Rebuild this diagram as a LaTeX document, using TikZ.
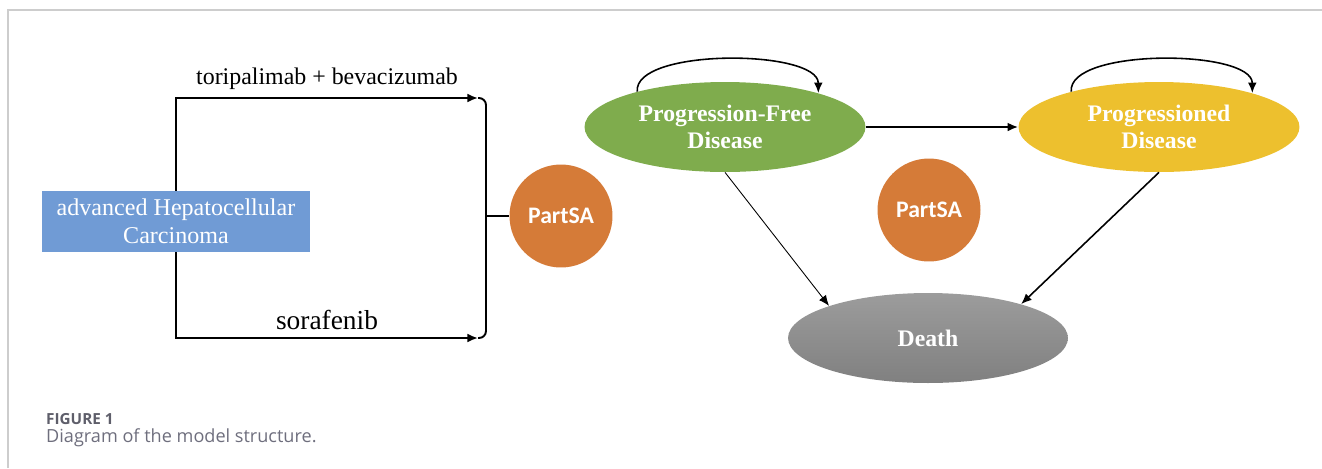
\documentclass[tikz,border=0pt]{standalone}
\usepackage{fontspec}
\setmainfont{Liberation Serif}
\newfontfamily\calfont{Carlito}
\newfontfamily\capfont{Open Sans}
\usepackage{xcolor}
\usepackage{tikz}
\usetikzlibrary{arrows,arrows.meta,shapes,positioning,calc}
\definecolor{boxblue}{RGB}{112,155,213}
\definecolor{partorange}{RGB}{213,123,56}
\definecolor{pfgreen}{RGB}{127,172,77}
\definecolor{pdyellow}{RGB}{237,192,46}
\definecolor{capgray}{RGB}{110,110,125}
\definecolor{framegray}{RGB}{205,205,205}
\definecolor{deathtop}{RGB}{156,156,156}
\definecolor{deathbot}{RGB}{128,128,128}
\tikzstyle{line} = [draw, -{Latex[length=6pt,width=5pt]}]
\tikzstyle{route} = [line, line width=1.1pt]
\tikzstyle{state} = [ellipse, inner sep=0pt, minimum width=5.62cm, minimum height=1.8cm, text=white, font=\bfseries\fontsize{13.5}{15}\selectfont, align=center]
\tikzstyle{partsa} = [circle, fill=partorange, inner sep=0pt, minimum size=2.06cm, text=white, font=\calfont\bfseries\fontsize{13.5}{15}\selectfont]

\begin{document}
\begin{tikzpicture}[x=0.02cm,y=-0.02cm]
		\useasboundingbox (0,0) rectangle (1322,468);
		\draw[framegray, line width=0.6pt] (8,468) -- (8,10) -- (1322,10); % page frame
		
		\node (hcc) [fill=boxblue, minimum width=5.36cm, minimum height=1.22cm, inner sep=0pt, text=white, align=center, font=\fontsize{13.7}{16}\selectfont] at (176,221.5) {advanced Hepatocellular\\Carcinoma}; % start box
		
		\coordinate (ttop) at (478,98); % end of upper arm
		\coordinate (tbot) at (478,338); % end of lower arm
		\node (ps1) [partsa] at (561,216) {PartSA}; % first PartSA
		
		\draw[route] (hcc.north) |- (ttop) node [pos=0.75, above=1pt, font=\fontsize{13.6}{15}\selectfont]{toripalimab + bevacizumab};
		\draw[route] (hcc.south) |- (tbot) node [pos=0.75, above=1pt, font=\fontsize{15.6}{17}\selectfont]{sorafenib};
		\draw[line width=1.1pt, rounded corners=4] (ttop) -- ++(8,0) -- ($(tbot)+(8,0)$) -- (tbot); % bracket
		\draw[line width=1.1pt] ($(ttop)+(8,118)$) -- (ps1.west); % into PartSA
		
		\node (pfd) [state, fill=pfgreen] at (725,127) {Progression-Free\\Disease}; % state 1
		\node (pd) [state, fill=pdyellow] at (1159,127) {Progressioned\\Disease}; % state 2
		\node (death) [state, minimum width=5.6cm, top color=deathtop, bottom color=deathbot] at (928,338) {Death}; % absorbing state
		\node (ps2) [partsa] at (929,210) {PartSA}; % second PartSA
		
		\draw[route] (pfd.east) -- (pd.west);
		\draw[line, line width=0.5pt] (pfd.south) -- (death.162);
		\draw[line, line width=0.9pt] (pd.south) -- (death.20);
		\draw[line, line width=0.9pt] (pfd.158) to[out=95,in=90,looseness=0.62] (pfd.20); % stay in PF
		\draw[line, line width=0.9pt] (pd.158) to[out=95,in=90,looseness=0.62] (pd.20); % stay in PD
		
		\node (fig) [anchor=west, text=capgray!85!black, font=\capfont\bfseries\fontsize{8.7}{10}\selectfont] at (40,419) {FIGURE 1};
		\node (cap) [anchor=west, text=capgray, font=\capfont\fontsize{10.3}{12}\selectfont] at (40,438) {Diagram of the model structure.};
		
\end{tikzpicture}
\end{document}
